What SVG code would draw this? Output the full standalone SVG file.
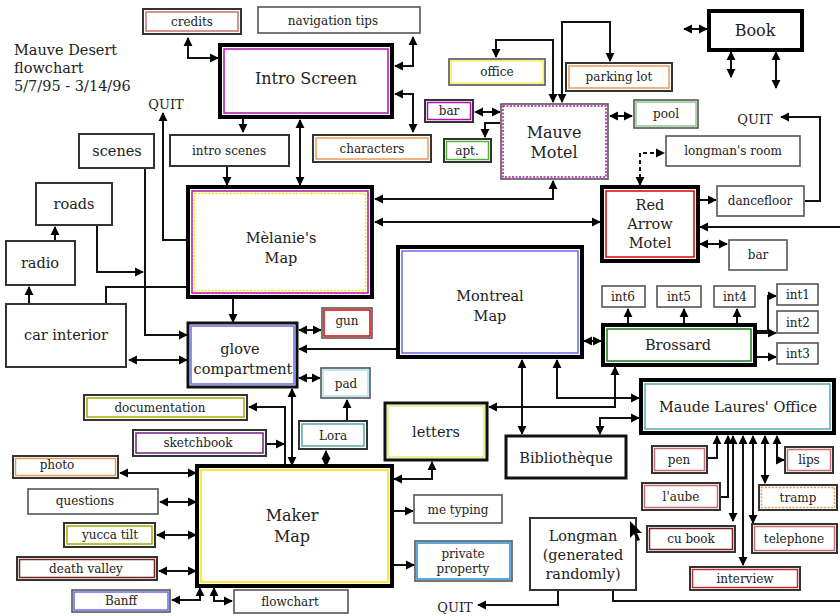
<svg xmlns="http://www.w3.org/2000/svg" width="840" height="616" viewBox="0 0 840 616">
<style>
text{font-family:"DejaVu Serif","Liberation Serif",serif;fill:#222;text-anchor:middle}
.s{font-size:12px}
.m{font-size:14.5px}
.l{font-size:16px}
.q{font-size:13px}
.t{font-size:14.5px;text-anchor:start}
.n{fill:#fff;stroke:#333;stroke-width:2}
.g{fill:#fff;stroke:#555;stroke-width:1.6}
.nm{fill:#fff;stroke:#111;stroke-width:3}
.nk{fill:#fff;stroke:#000;stroke-width:4}
.i{fill:none;stroke-width:1.5}
.dot{stroke-dasharray:2 1.5}
.mag{stroke:#b010b0}.org{stroke:#ec9a58}.yel{stroke:#ffe000}.blu{stroke:#6a6ae8}
.red{stroke:#e00000}.grn{stroke:#58b040}.teal{stroke:#5aa8a8}.olv{stroke:#a8a800}
.pur{stroke:#702080}.brn{stroke:#7a2020}.cyan{stroke:#a8e0f0}.sky{stroke:#2090d8}
.lgr{stroke:#d8f070}.pink{stroke:#c87070}.dgr{stroke:#1a7a1a}.lgrn{stroke:#90c890}
.c path{fill:none;stroke:#111;stroke-width:2}
.c .e{marker-end:url(#ah)}
.c .b{marker-start:url(#ah);marker-end:url(#ah)}
.c .d{stroke-dasharray:4 3}
</style>
<defs>
<marker id="ah" viewBox="0 0 10 10" refX="9" refY="5" markerWidth="9" markerHeight="10" markerUnits="userSpaceOnUse" orient="auto-start-reverse"><path d="M0,0 L10,5 L0,10 z" fill="#000"/></marker>
</defs>
<rect width="840" height="616" fill="#fff"/>

<g id="title">
<text class="t" x="14" y="55">Mauve Desert</text>
<text class="t" x="14" y="73">flowchart</text>
<text class="t" x="14" y="91">5/7/95 - 3/14/96</text>
</g>

<g class="c" id="connectors">
<path class="b" d="M188,38 V58 H218"/>
<path class="b" d="M413,37 V66 H395"/>
<path class="b" d="M395,94 H413 V132"/>
<path class="e" d="M243,119 V132"/>
<path class="e" d="M227,167 V185"/>
<path class="b" d="M300,120 V185"/>
<path class="e" d="M188,240 H163 V113"/>
<path class="e" d="M145,168 V335 H187"/>
<path class="e" d="M97,226 V272 H143"/>
<path class="e" d="M55,241 V227"/>
<path class="e" d="M29,304 V287"/>
<path d="M106,304 V287 H188"/>
<path class="b" d="M129,360 H187"/>
<path class="e" d="M233,299 V322"/>
<path class="b" d="M375,199 H553 V181"/>
<path class="b" d="M375,222 H600"/>
<path class="e" d="M398,349 H299"/>
<path class="b" d="M299,330 H321"/>
<path class="b" d="M299,378 H320"/>
<path class="e" d="M347,421 V400"/>
<path class="b" d="M326,451 V466"/>
<path class="b" d="M292,389 V465"/>
<path class="e" d="M285,465 V407 H249"/>
<path class="e" d="M267,444 H284"/>
<path class="b" d="M120,473 H196"/>
<path class="b" d="M160,502 H196"/>
<path class="b" d="M157,535 H196"/>
<path class="b" d="M159,571 H196"/>
<path class="b" d="M172,600 H200 V588"/>
<path class="b" d="M214,588 V601 H232"/>
<path class="b" d="M432,462 V479 H394"/>
<path class="e" d="M393,511 H413"/>
<path class="e" d="M393,565 H414"/>
<path class="e" d="M558,591 V605 H478"/>
<path d="M613,591 V601 H840"/>
<path class="b" d="M522,360 V434"/>
<path class="b" d="M557,360 V398 H639"/>
<path class="b" d="M615,367 V407 H489"/>
<path class="b" d="M639,418 H600 V434"/>
<path class="b" d="M584,341 H601"/>
<path class="e" d="M628,324 V309"/>
<path class="e" d="M684,324 V309"/>
<path class="e" d="M737,324 V309"/>
<path class="e" d="M757,331 H768 V296 H776"/>
<path class="e" d="M757,333 H776"/>
<path class="e" d="M757,357 H776"/>
<path class="b d" d="M640,185 V153 H664"/>
<path class="e" d="M700,200 H716"/>
<path class="e" d="M805,201 H820 V117 H781"/>
<path class="e" d="M840,227 H700"/>
<path class="b" d="M700,244 H727"/>
<path class="b" d="M475,112 H500"/>
<path class="e" d="M500,123 H485 V137"/>
<path class="b" d="M553,102 V40 H496 V57"/>
<path class="b" d="M562,102 V22 H610 V61"/>
<path class="b" d="M610,116 H632"/>
<path class="b" d="M684,29 H707"/>
<path class="b" d="M731,52 V77"/>
<path class="b" d="M776,52 V88"/>
<path class="e" d="M708,458 H717 V436"/>
<path class="e" d="M721,497 H728 V436"/>
<path class="b" d="M733,436 V521"/>
<path class="b" d="M743,436 V565"/>
<path class="b" d="M753,436 V523"/>
<path class="b" d="M765,436 V483"/>
<path class="b" d="M777,436 V460 H784"/>
</g>

<g id="credits"><rect class="n" x="143" y="9" width="98" height="25"/><rect class="i pink" x="146" y="12" width="92" height="19"/><text class="s" x="192" y="26">credits</text></g>
<g id="navtips"><rect class="g" x="258" y="7" width="162" height="26"/><text class="s" x="333" y="25">navigation tips</text></g>
<g id="intro"><rect class="nk" x="220" y="45" width="172" height="72"/><rect class="i mag" x="224" y="49" width="164" height="64" stroke-width="2"/><text class="l" x="306" y="84">Intro Screen</text></g>
<g id="scenes"><rect class="n" x="79" y="134" width="75" height="34"/><text class="m" x="117" y="156">scenes</text></g>
<g id="introscenes"><rect class="n" x="170" y="135" width="119" height="31"/><text class="s" x="229" y="155">intro scenes</text></g>
<g id="characters"><rect class="n" x="313" y="135" width="118" height="27"/><rect class="i org" x="316" y="138" width="112" height="21"/><text class="s" x="372" y="153">characters</text></g>
<g id="melanie"><rect class="nk" x="188" y="187" width="184" height="110"/><rect class="i mag" x="192" y="191" width="176" height="102" stroke-width="2"/><rect class="i yel dot" x="194.5" y="193.5" width="171" height="97"/><text class="m" x="281" y="243">Mèlanie's</text><text class="m" x="281" y="263">Map</text></g>
<g id="roads"><rect class="n" x="36" y="183" width="76" height="42"/><text class="m" x="74" y="209">roads</text></g>
<g id="radio"><rect class="n" x="6" y="241" width="69" height="44"/><text class="m" x="40" y="268">radio</text></g>
<g id="car"><rect class="n" x="6" y="304" width="120" height="63"/><text class="m" x="66" y="340">car interior</text></g>
<g id="glove"><rect class="nm" x="188" y="323" width="109" height="64"/><rect class="i blu" x="191" y="326" width="103" height="58"/><text class="m" x="240" y="354">glove</text><text class="m" x="243" y="374">compartment</text></g>
<g id="gun"><rect class="g" x="322" y="308" width="50" height="30"/><rect class="i red" x="324" y="310" width="46" height="26" stroke-width="2"/><text class="s" x="347" y="325">gun</text></g>
<g id="pad"><rect class="g" x="321" y="368" width="49" height="30"/><rect class="i cyan" x="323" y="370" width="45" height="26"/><text class="s" x="346" y="388">pad</text></g>
<g id="lora"><rect class="n" x="299" y="421" width="68" height="28"/><rect class="i teal" x="302" y="424" width="62" height="22"/><text class="s" x="333" y="440">Lora</text></g>
<g id="documentation"><rect class="n" x="84" y="395" width="163" height="25"/><rect class="i olv" x="87" y="398" width="157" height="19"/><text class="s" x="160" y="412">documentation</text></g>
<g id="sketchbook"><rect class="n" x="133" y="430" width="133" height="26"/><rect class="i pur" x="136" y="433" width="127" height="20"/><text class="s" x="198" y="447">sketchbook</text></g>
<g id="photo"><rect class="n" x="13" y="456" width="105" height="22"/><rect class="i org" x="15.5" y="458.5" width="100" height="17"/><text class="s" x="57" y="469">photo</text></g>
<g id="questions"><rect class="g" x="28" y="489" width="130" height="25"/><text class="s" x="85" y="505">questions</text></g>
<g id="yucca"><rect class="n" x="64" y="523" width="91" height="24"/><rect class="i olv" x="67" y="526" width="85" height="18"/><text class="s" x="110" y="539">yucca tilt</text></g>
<g id="deathvalley"><rect class="n" x="17" y="557" width="140" height="23"/><rect class="i brn" x="19.5" y="559.5" width="135" height="18"/><text class="s" x="86" y="573">death valley</text></g>
<g id="banff"><rect class="g" x="72" y="590" width="98" height="22"/><rect class="i blu" x="74" y="592" width="94" height="18"/><text class="s" x="121" y="605">Banff</text></g>
<g id="flowchart"><rect class="g" x="234" y="590" width="114" height="23"/><text class="s" x="290" y="606">flowchart</text></g>
<g id="maker"><rect class="nk" x="197" y="466" width="195" height="120"/><rect class="i yel" x="201" y="470" width="187" height="112" stroke-width="3"/><text class="l" x="292" y="521">Maker</text><text class="l" x="292" y="542">Map</text></g>
<g id="letters"><rect class="nm" x="385" y="403" width="102" height="57"/><rect class="i lgr" x="388" y="406" width="96" height="51" stroke-width="2"/><text class="m" x="436" y="437">letters</text></g>
<g id="metyping"><rect class="g" x="414" y="495" width="88" height="28"/><text class="s" x="458" y="514">me typing</text></g>
<g id="private"><rect class="g" x="415" y="541" width="97" height="40"/><rect class="i sky" x="417" y="543" width="93" height="36" stroke-width="2"/><text class="s" x="463" y="558">private</text><text class="s" x="463" y="573">property</text></g>
<g id="longman"><rect class="n" x="530" y="518" width="106" height="72"/><text class="m" x="583" y="541">Longman</text><text class="m" x="583" y="560">(generated</text><text class="m" x="583" y="579">randomly)</text><polygon points="630,521 630,538 634,534 637,541 640,540 637,533 642,533" fill="#000"/></g>
<g id="montreal"><rect class="nk" x="398" y="247" width="184" height="110"/><rect class="i blu" x="402" y="251" width="176" height="102" stroke-width="2.5"/><text class="m" x="490" y="301">Montreal</text><text class="m" x="490" y="321">Map</text></g>
<g id="mauve"><rect class="g" x="501" y="104" width="107" height="75"/><rect class="i mag dot" x="503" y="106" width="103" height="71" stroke-width="1"/><text class="l" x="554" y="138">Mauve</text><text class="l" x="554" y="158">Motel</text></g>
<g id="office"><rect class="g" x="449" y="59" width="96" height="26"/><rect class="i" stroke="#f0f060" x="451" y="61" width="92" height="22" stroke-width="2"/><text class="s" x="497" y="76">office</text></g>
<g id="parking"><rect class="n" x="566" y="63" width="106" height="28"/><rect class="i org" x="569" y="66" width="100" height="22"/><text class="s" x="619" y="81">parking lot</text></g>
<g id="bar1"><rect class="n" x="425" y="100" width="48" height="22"/><rect class="i mag" x="427.5" y="102.5" width="43" height="17"/><text class="s" x="449" y="115">bar</text></g>
<g id="apt"><rect class="n" x="444" y="139" width="47" height="23"/><rect class="i grn" x="446.5" y="141.5" width="42" height="18"/><text class="s" x="467" y="155">apt.</text></g>
<g id="pool"><rect class="g" x="634" y="100" width="64" height="28"/><rect class="i lgrn" x="636" y="102" width="60" height="24"/><text class="s" x="666" y="118">pool</text></g>
<g id="book"><rect class="nk" x="709" y="11" width="93" height="39"/><text class="l" x="755" y="36">Book</text></g>
<g id="quit1"><text class="q" x="166" y="109">QUIT</text></g>
<g id="quit2"><text class="q" x="755" y="124">QUIT</text></g>
<g id="quit3"><text class="q" x="455" y="612">QUIT</text></g>
<g id="longmansroom"><rect class="g" x="666" y="136" width="134" height="30"/><text class="s" x="733" y="155">longman's room</text></g>
<g id="redarrow"><rect class="nk" x="602" y="187" width="96" height="74"/><rect class="i red" x="606" y="191" width="88" height="66" stroke-width="2"/><text class="m" x="650" y="210">Red</text><text class="m" x="650" y="229">Arrow</text><text class="m" x="650" y="248">Motel</text></g>
<g id="dancefloor"><rect class="g" x="717" y="186" width="87" height="30"/><text class="s" x="760" y="205">dancefloor</text></g>
<g id="bar2"><rect class="g" x="729" y="240" width="58" height="30"/><text class="s" x="758" y="259">bar</text></g>
<g id="brossard"><rect class="nk" x="603" y="325" width="152" height="40"/><rect class="i dgr" x="607" y="329" width="144" height="32" stroke-width="2"/><text class="m" x="678" y="350">Brossard</text></g>
<g id="int6"><rect class="g" x="602" y="286" width="43" height="21"/><text class="s" x="623" y="301">int6</text></g>
<g id="int5"><rect class="g" x="657" y="286" width="44" height="21"/><text class="s" x="679" y="301">int5</text></g>
<g id="int4"><rect class="g" x="714" y="286" width="41" height="21"/><text class="s" x="735" y="301">int4</text></g>
<g id="int1"><rect class="g" x="777" y="284" width="41" height="21"/><text class="s" x="798" y="299">int1</text></g>
<g id="int2"><rect class="g" x="777" y="311" width="41" height="22"/><text class="s" x="798" y="327">int2</text></g>
<g id="int3"><rect class="g" x="777" y="343" width="41" height="21"/><text class="s" x="798" y="358">int3</text></g>
<g id="maude"><rect class="nk" x="641" y="380" width="193" height="53"/><rect class="i teal" x="645" y="384" width="185" height="45" stroke-width="2"/><text class="m" x="738" y="412">Maude Laures' Office</text></g>
<g id="biblio"><rect class="nm" x="506" y="436" width="120" height="42"/><text class="m" x="566" y="463">Bibliothèque</text></g>
<g id="pen"><rect class="n" x="652" y="446" width="55" height="27"/><rect class="i pink" x="654.5" y="448.5" width="50" height="22"/><text class="s" x="679" y="464">pen</text></g>
<g id="laube"><rect class="n" x="642" y="483" width="78" height="27"/><rect class="i pink" x="644.5" y="485.5" width="73" height="22"/><text class="s" x="681" y="501">l'aube</text></g>
<g id="lips"><rect class="n" x="785" y="447" width="48" height="26"/><rect class="i pink" x="787.5" y="449.5" width="43" height="21"/><text class="s" x="809" y="464">lips</text></g>
<g id="tramp"><rect class="n" x="759" y="485" width="78" height="25"/><rect class="i org dot" x="761.5" y="487.5" width="73" height="20"/><text class="s" x="798" y="502">tramp</text></g>
<g id="cubook"><rect class="n" x="647" y="526" width="88" height="26"/><rect class="i brn" x="649.5" y="528.5" width="83" height="21" stroke-width="2"/><text class="s" x="691" y="543">cu book</text></g>
<g id="telephone"><rect class="n" x="752" y="524" width="85" height="29"/><rect class="i pink" x="754.5" y="526.5" width="80" height="24"/><text class="s" x="794" y="543">telephone</text></g>
<g id="interview"><rect class="n" x="690" y="567" width="110" height="23"/><rect class="i" stroke="#c03030" x="692.5" y="569.5" width="105" height="18"/><text class="s" x="745" y="583">interview</text></g>
</svg>
